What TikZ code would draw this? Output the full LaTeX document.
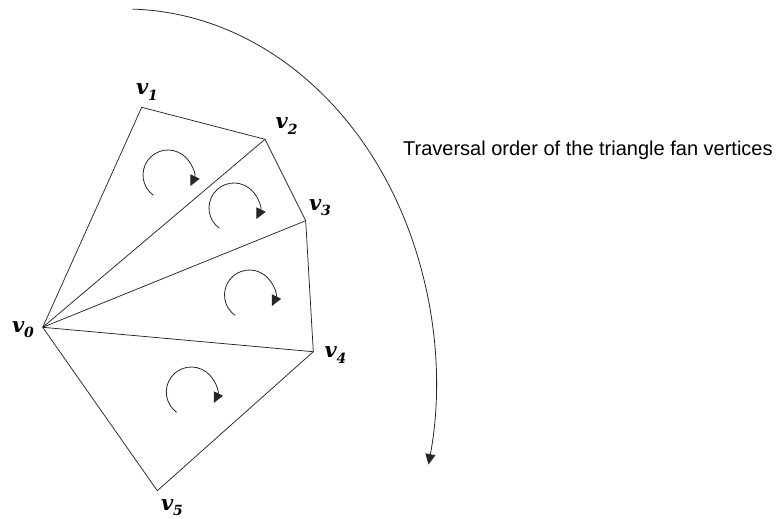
\documentclass[tikz,border=0pt]{standalone}
\usepackage{fontspec}
\setmainfont{Liberation Sans}
\newfontfamily\lblfont{DejaVu Serif}
\usetikzlibrary{arrows.meta}
\tikzset{
  edge/.style={draw=black!85, line width=0.75pt},
  rot/.style={draw=black!85, line width=0.8pt, -{Triangle[length=10.5pt,width=10pt]}},
  vlabel/.style={inner sep=0pt, font=\lblfont\bfseries\itshape\fontsize{21}{21}\selectfont},
  caption/.style={inner sep=0pt, anchor=base west, font=\fontsize{20}{22}\selectfont}
}
\newcommand{\vl}[1]{v\raisebox{-0.25em}{\fontsize{14}{14}\selectfont #1}}
\begin{document}
\begin{tikzpicture}[x=1pt,y=1pt]
\useasboundingbox (0,0) rectangle (776,-519);
% vertices
\coordinate (v0) at (42.7,-327.3);
\coordinate (v1) at (141.7,-107.3);
\coordinate (v2) at (265,-139.3);
\coordinate (v3) at (305.7,-220.7);
\coordinate (v4) at (313.3,-351.7);
\coordinate (v5) at (157.3,-490.7);
% fan outline
\draw[edge] (v0) -- (v1) -- (v2) -- (v3) -- (v4) -- (v5) -- (v0);
\draw[edge] (v0) -- (v2);
\draw[edge] (v0) -- (v3);
\draw[edge] (v0) -- (v4);
% labels
\node[vlabel] (l0) at (23,-330) {\vl{0}};
\node[vlabel] (l1) at (147,-92) {\vl{1}};
\node[vlabel] (l2) at (286.7,-126) {\vl{2}};
\node[vlabel] (l3) at (320,-208) {\vl{3}};
\node[vlabel] (l4) at (335.5,-355) {\vl{4}};
\node[vlabel] (l5) at (172,-508) {\vl{5}};
% rotation arrows
\coordinate (c1) at (168,-175);
\coordinate (c2) at (234,-208);
\coordinate (c3) at (249.5,-295);
\coordinate (c4) at (191.3,-392);
\foreach \c in {c1,c2,c3,c4}{
  \draw[rot] (\c) ++(234:25) arc[start angle=234, end angle=-26, radius=25];
}
% big traversal arc
\coordinate (bc) at (125,-383);
\draw[rot] (bc) ++({311*cos(88.6)},{374*sin(88.6)}) arc[start angle=88.6, end angle=-12.6, x radius=311, y radius=374];
% caption
\node[caption] (cap) at (403,-155.5) {Traversal order of the triangle fan vertices};
\end{tikzpicture}
\end{document}
